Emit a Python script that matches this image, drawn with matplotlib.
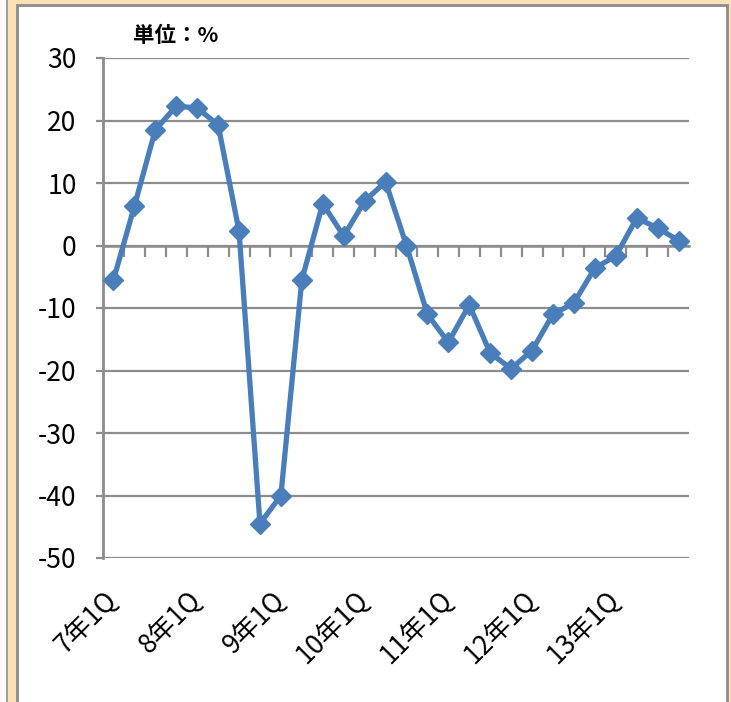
import matplotlib.pyplot as plt
from matplotlib.patches import Rectangle

plt.rcParams['font.family'] = ['Noto Sans CJK JP', 'DejaVu Sans']
plt.rcParams['axes.unicode_minus'] = False

# quarterly change, 7年1Q .. 13年4Q
quarters = [f"{y}年{q}Q" for y in range(7, 14) for q in range(1, 5)]
values = [-5.5, 6.3, 18.5, 22.3, 22.0, 19.3, 2.3, -44.5,
          -40.0, -5.5, 6.7, 1.5, 7.1, 10.2, 0.0, -11.0,
          -15.5, -9.5, -17.2, -19.7, -16.8, -11.0, -9.2, -3.6,
          -1.7, 4.4, 2.8, 0.8]
label_pos = list(range(0, 28, 4))
label_txt = [quarters[i] for i in label_pos]
yticks = [30, 20, 10, 0, -10, -20, -30, -40, -50]

W, H = 731, 702
fig = plt.figure(figsize=(W / 100, H / 100), dpi=100)
fig.patch.set_facecolor('white')

# frame around the chart (peach background, gray border)
peach = '#fde1b6'
gray = '#8c8c8c'
fig.patches.append(Rectangle((7 / W, 0), (W - 7) / W, 1, transform=fig.transFigure,
                             facecolor=peach, edgecolor='none', zorder=-3))
fig.patches.append(Rectangle((0, 0), 6 / W, 1, transform=fig.transFigure,
                             facecolor='#fdfaf7', edgecolor='none', zorder=-3))
fig.patches.append(Rectangle((6 / W, 0), 2 / W, 1, transform=fig.transFigure,
                             facecolor='#a0a0a0', edgecolor='none', zorder=-2))
fig.patches.append(Rectangle((17 / W, -0.01), (727 - 17) / W, 1 - 5 / H + 0.01,
                             transform=fig.transFigure, facecolor='white',
                             edgecolor=gray, linewidth=2, zorder=-1))

ax = fig.add_axes([103 / W, 1 - 558 / H, (689 - 103) / W, (558 - 58) / H])
ax.set_facecolor('none')

x = list(range(len(values)))
ax.plot(x, values, color='#4a7ebb', lw=3.8, marker='D', ms=10.5,
        mec='#4a7ebb', mew=1, zorder=5, clip_on=False)

ax.set_xlim(-0.5, len(values) - 0.5)
ax.set_ylim(-50, 30)
ax.set_yticks(yticks)
ax.tick_params(axis='y', labelsize=19, length=5, width=1.6, color=gray, pad=14)
ax.yaxis.grid(True, color=gray, lw=1.6)
ax.set_axisbelow(True)

for s in ['top', 'right']:
    ax.spines[s].set_visible(False)
ax.spines['left'].set_color(gray)
ax.spines['left'].set_linewidth(2)
ax.spines['bottom'].set_position(('data', 0))
ax.spines['bottom'].set_color(gray)
ax.spines['bottom'].set_linewidth(1.8)

# boundary ticks on the zero line
ax.set_xticks([i + 0.5 for i in range(len(values) - 1)])
ax.set_xticklabels([])
ax.tick_params(axis='x', direction='out', length=8, width=1.6, color=gray)

sec = ax.secondary_xaxis(0)
sec.set_xticks(label_pos, label_txt, rotation=45, ha='right',
               rotation_mode='anchor', fontsize=19)
sec.tick_params(length=0, pad=27)
sec.spines['bottom'].set_visible(False)
for t in sec.get_xticklabels():
    t.set_va('center')

fig.text(133 / W, 1 - 35 / H, '単位：%', fontsize=15.5, fontweight='bold',
         va='center', ha='left')

fig.savefig('out.png', dpi=100)
